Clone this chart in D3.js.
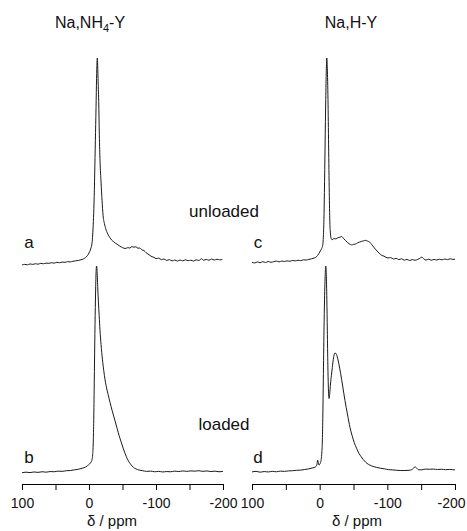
<!DOCTYPE html>
<html>
<head>
<meta charset="utf-8">
<script src="https://cdn.jsdelivr.net/npm/d3@7"></script>
<style>
  body { margin: 0; background: #fff; }
  text { font-family: "Liberation Sans", Arial, sans-serif; fill: #111; }
</style>
</head>
<body>
<div id="chart"></div>
<script>
// Data: [ppm, intensity]  (intensity: peak = 100)
var specA = [
  [100,0.0],[96,0.3],[92,0.1],[88,0.5],[84,0.3],[80,0.6],[76,0.4],[72,0.8],[68,0.6],[64,0.9],
  [60,0.8],[56,1.1],[52,0.9],[48,1.3],[44,1.1],[40,1.4],[36,1.3],[32,1.6],[28,1.5],[24,1.8],
  [20,2.0],[16,2.2],[12,2.5],[8,3.0],[5,3.6],[3,4.3],[1,5.2],[-1,6.5],[-3,8.3],[-4.5,10.5],
  [-5.5,14.5],[-6.5,21],[-7.5,30],[-8.5,44],[-9.5,60],[-10.5,76],[-11.3,90],[-12,98],[-12.4,100],
  [-12.8,98],[-13.5,90],[-14.5,79],[-15.4,63],[-16.5,50],[-18,40],[-19.5,31],[-21,24],[-23,20],
  [-25,17.5],[-28,15],[-31,13.3],[-34,12],[-37,11.2],[-40,10.4],[-43,9.8],[-46,9.1],[-49,8.6],
  [-52,8.1],[-55,8.0],[-58,8.4],[-61,8.2],[-64,8.9],[-67,8.6],[-70,8.8],[-73,8.1],[-76,8.2],
  [-79,7.3],[-82,7.0],[-85,6.0],[-88,5.3],[-91,4.6],[-94,4.0],[-97,3.7],[-100,3.1],[-104,3.3],
  [-108,2.6],[-112,2.9],[-116,2.2],[-120,2.6],[-124,2.0],[-128,2.4],[-132,1.9],[-136,2.4],
  [-140,2.0],[-144,2.5],[-148,2.1],[-152,2.3],[-156,1.9],[-160,2.5],[-164,2.2],[-168,3.0],
  [-171,2.3],[-175,2.7],[-179,2.3],[-183,2.9],[-187,2.4],[-191,2.8],[-195,2.5],[-199,2.6]
];
var specB = [
  [100,0.1],[94,0.4],[88,0.2],[82,0.5],[76,0.3],[70,0.6],[64,0.4],[58,0.7],[52,0.6],[46,0.9],
  [40,0.8],[34,1.1],[28,1.2],[22,1.5],[16,1.8],[10,2.3],[5,2.9],[2,3.6],[-1,4.4],[-3,5.2],
  [-4.5,6.5],[-5.5,9],[-6.3,14],[-7,24],[-7.7,40],[-8.4,58],[-9.2,76],[-10,90],[-10.7,98],
  [-11.3,100],[-12,98],[-13,90],[-14,83],[-15.2,76],[-16.4,69],[-18,62],[-20,55],[-22,49.5],
  [-24,45],[-27,40],[-30,36],[-33,32],[-36,28.5],[-39,25],[-42,21.5],[-45,18],[-48,15],
  [-51,12],[-54,9.3],[-57,7],[-60,5.2],[-63,3.9],[-66,2.8],[-70,2.0],[-75,1.4],[-80,1.1],
  [-86,0.8],[-92,0.9],[-98,0.6],[-104,0.8],[-110,0.5],[-116,0.7],[-122,0.6],[-128,0.9],
  [-134,0.7],[-140,1.0],[-146,0.8],[-152,1.0],[-158,0.9],[-164,1.1],[-170,0.8],[-176,1.0],
  [-182,0.7],[-188,0.9],[-194,0.6],[-200,0.8]
];
var specC = [
  [100,1.3],[96,1.0],[92,1.5],[88,1.1],[84,1.6],[80,1.2],[76,1.7],[72,1.3],[68,1.6],[64,1.9],
  [60,1.5],[56,1.9],[52,1.7],[48,2.0],[44,1.8],[40,2.2],[36,2.0],[32,2.3],[28,2.1],[24,2.5],
  [20,2.4],[16,2.7],[12,3.0],[8,3.4],[5,3.9],[3,4.6],[1,5.6],[-1,6.8],[-3,8.0],[-4.5,9.5],
  [-5.5,14],[-6.3,22],[-7,35],[-8,58],[-9,80],[-9.8,94],[-10.5,100],[-11.3,95],[-12.3,80],
  [-13.2,58],[-14.2,35],[-15,21],[-16,15],[-17,12.8],[-18.5,12.2],[-21,12.8],[-24,12.6],
  [-27,13.2],[-30,13.4],[-32.5,13.8],[-35,12.9],[-38,11.9],[-41,10.9],[-44,10.2],[-47,9.7],
  [-50,10.0],[-53,10.1],[-56,10.7],[-59,11.1],[-62,11.4],[-65,11.7],[-68,11.9],[-71,11.5],
  [-74,11.0],[-77,9.8],[-80,8.6],[-83,7.4],[-86,6.3],[-89,5.4],[-92,4.6],[-95,4.3],[-98,3.7],
  [-101,3.4],[-105,3.6],[-109,2.9],[-113,3.2],[-117,2.6],[-121,3.0],[-125,2.3],[-129,2.7],
  [-133,2.2],[-137,2.6],[-141,2.3],[-145,2.7],[-148,3.2],[-151,3.8],[-154,2.9],[-157,2.4],
  [-161,2.8],[-165,2.3],[-169,2.7],[-173,2.4],[-177,2.8],[-181,2.5],[-185,2.9],[-189,2.6],
  [-193,3.0],[-197,2.7],[-200,2.8]
];
var specD = [
  [100,0.5],[94,0.8],[88,0.4],[82,0.7],[76,0.5],[70,0.8],[64,0.6],[58,0.9],[52,0.8],[46,1.0],
  [40,1.1],[34,1.3],[28,1.4],[22,1.7],[16,2.0],[10,2.5],[6,3.0],[4,4.0],[3,6.2],[2,5.0],
  [1,3.8],[0,4.2],[-1,4.8],[-2,6],[-3,9],[-4,16],[-4.7,28],[-5.4,45],[-6.4,69],[-7.2,84],
  [-8.2,96],[-9,100],[-9.8,96],[-10.6,84],[-11.3,69],[-12.1,52],[-12.8,42],[-13.8,36],
  [-14.8,38],[-16,43],[-17.3,47],[-18.7,51],[-20.2,55],[-22.6,58],[-24.5,57.5],[-26.5,55.5],
  [-28.5,52.5],[-31,48],[-34,42],[-37.4,35],[-41,28.5],[-44.8,22],[-48,18],[-51,14.8],
  [-54.7,11.8],[-58,9.5],[-61,8],[-64.5,6.5],[-68,5.2],[-72,4.2],[-77,3.4],[-84,2.7],
  [-90,2.3],[-96,2.0],[-102,1.6],[-108,1.5],[-114,1.3],[-120,1.2],[-126,1.2],[-132,1.3],
  [-136,1.6],[-139,2.4],[-141,3.0],[-143,2.5],[-146,1.6],[-150,1.5],[-156,1.9],[-162,1.8],
  [-168,1.9],[-174,1.7],[-180,1.8],[-186,1.6],[-192,1.7],[-200,1.5]
];

var panelTitles  = ["Na,NH", "Na,H-Y"];
var traceLabels  = ["a", "b", "c", "d"];
var rowLabels    = ["unloaded", "loaded"];
var tickValues   = [100, 50, 0, -50, -100, -150, -200];
var axisLabel    = "\u03b4 / ppm";

// Size
var chart_width  = 467;
var chart_height = 531;

var svg = d3.select("#chart")
    .append("svg")
    .attr("width", chart_width)
    .attr("height", chart_height);

// x scales, one per column
var xLeft  = d3.scaleLinear().domain([100, -200]).range([22, 223]);
var xRight = d3.scaleLinear().domain([100, -200]).range([252, 455]);

// y scales, one per row
var yTop    = d3.scaleLinear().domain([0, 100]).range([265, 58]);
var yBottom = d3.scaleLinear().domain([0, 100]).range([473, 266]);

var traces = [
    { data: specA, x: xLeft,  y: yTop },
    { data: specB, x: xLeft,  y: yBottom },
    { data: specC, x: xRight, y: yTop },
    { data: specD, x: xRight, y: yBottom }
];

traces.forEach(function(t) {
    var line = d3.line()
        .x(d => t.x(d[0]))
        .y(d => t.y(d[1]))
        .curve(d3.curveMonotoneX);
    svg.append("path")
        .datum(t.data)
        .attr("d", line)
        .style("fill", "none")
        .style("stroke", "#1a1a1a")
        .style("stroke-width", 1);
});

// Axes
[xLeft, xRight].forEach(function(x, k) {
    var axis = d3.axisBottom(x)
        .tickValues(tickValues)
        .tickSize(6)
        .tickSizeOuter(0)
        .tickPadding(8)
        .tickFormat(d => d % 100 === 0 ? String(d) : "");
    var g = svg.append("g")
        .attr("transform", "translate(0,484)")
        .call(axis);
    g.select(".domain").style("stroke", "#000");
    g.selectAll(".tick line").style("stroke", "#000");
    g.selectAll(".tick text")
        .style("font-size", "14px")
        .style("font-family", "'Liberation Sans', Arial, sans-serif")
        .style("fill", "#111");
    // last label sits on the page edge; pull it in a little
    if (k === 1) {
        g.selectAll(".tick text").filter(d => d === -200).attr("dx", -4);
    }
});

// Axis titles
svg.selectAll(".xlabel")
    .data([112, 357])
    .enter()
    .append("text")
    .attr("x", d => d)
    .attr("y", 526)
    .attr("text-anchor", "middle")
    .style("font-size", "15px")
    .text(axisLabel);

// Panel titles
var t1 = svg.append("text")
    .attr("x", 90)
    .attr("y", 28)
    .attr("text-anchor", "middle")
    .style("font-size", "16px");
t1.append("tspan").text(panelTitles[0]);
t1.append("tspan").attr("dy", 4).style("font-size", "11px").text("4");
t1.append("tspan").attr("dy", -4).text("-Y");

svg.append("text")
    .attr("x", 351)
    .attr("y", 28)
    .attr("text-anchor", "middle")
    .style("font-size", "16px")
    .text(panelTitles[1]);

// Trace labels
var labelPos = [[29, 248], [29, 463], [258, 248], [258, 463]];
svg.selectAll(".tlabel")
    .data(traceLabels)
    .enter()
    .append("text")
    .attr("x", (d, i) => labelPos[i][0])
    .attr("y", (d, i) => labelPos[i][1])
    .attr("text-anchor", "middle")
    .style("font-size", "17px")
    .text(d => d);

// Row labels
svg.selectAll(".rlabel")
    .data(rowLabels)
    .enter()
    .append("text")
    .attr("x", 224)
    .attr("y", (d, i) => i === 0 ? 217 : 430)
    .attr("text-anchor", "middle")
    .style("font-size", "17px")
    .text(d => d);
</script>
</body>
</html>
